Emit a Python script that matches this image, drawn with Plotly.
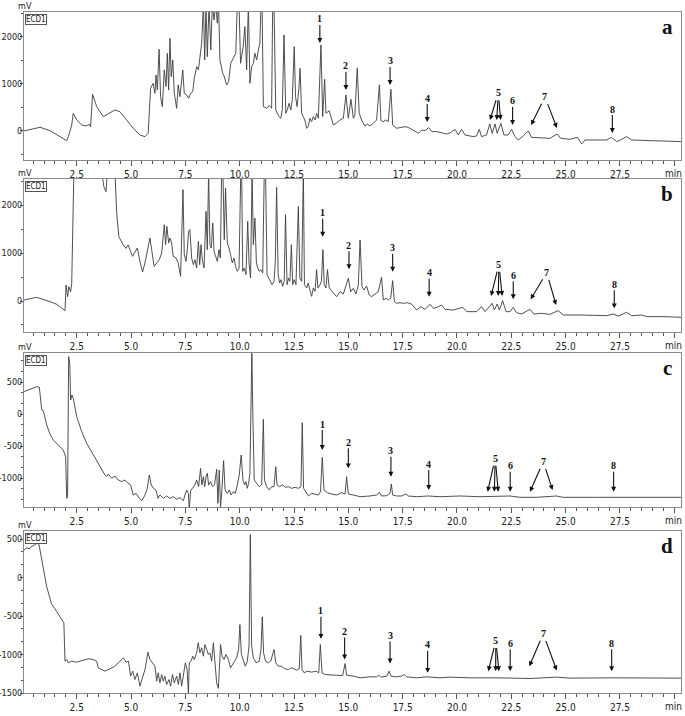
import plotly.graph_objects as go

# Retention time (min) and detector signal (mV)
a_time = [0.07, 0.66, 0.81, 1.27, 2.04, 2.14, 2.27, 2.34, 2.5, 2.73, 2.93, 3.08, 3.14, 3.23, 3.42, 3.72, 4.03, 4.26, 4.49, 4.8,
          5.1, 5.41, 5.64, 5.79, 5.87, 5.90, 6.02, 6.10, 6.15, 6.21, 6.29, 6.36, 6.44, 6.53, 6.61, 6.67, 6.73, 6.79, 6.85, 6.92,
          6.99, 7.10, 7.17, 7.25, 7.38, 7.45, 7.56, 7.65, 7.75, 7.84, 7.91, 8.02, 8.10, 8.17, 8.25, 8.33, 8.39, 8.45, 8.51, 8.59,
          8.67, 8.74, 8.82, 8.90, 8.97, 9.03, 9.09, 9.22, 9.29, 9.40, 9.49, 9.59, 9.68, 9.74, 9.82, 9.89, 9.97, 10.04, 10.16, 10.24,
          10.32, 10.40, 10.47, 10.55, 10.63, 10.70, 10.78, 10.86, 10.93, 10.98, 11.03, 11.09, 11.24, 11.36, 11.47, 11.52, 11.58, 11.66, 11.81, 11.89,
          11.96, 12.04, 12.12, 12.19, 12.27, 12.35, 12.42, 12.51, 12.57, 12.64, 12.72, 12.78, 12.85, 12.92, 13.0, 13.08, 13.15, 13.23, 13.31, 13.39,
          13.47, 13.54, 13.62, 13.74, 13.82, 13.91, 13.97, 14.12, 14.31, 14.45, 14.62, 14.77, 14.89, 15.0, 15.12, 15.23, 15.3, 15.41, 15.5, 15.61,
          15.69, 15.76, 15.87, 15.99, 16.15, 16.30, 16.43, 16.50, 16.61, 16.73, 16.84, 16.96, 17.04, 17.22, 17.45, 17.65, 17.84, 18.07, 18.23, 18.38,
          18.53, 18.70, 18.84, 19.07, 19.30, 19.52, 19.71, 19.91, 20.06, 20.21, 20.37, 20.75, 20.9, 21.03, 21.13, 21.36, 21.51, 21.62, 21.75, 21.85,
          22.02, 22.16, 22.36, 22.51, 22.67, 22.82, 23.02, 23.28, 23.43, 23.74, 23.97, 24.28, 24.61, 24.77, 25.20, 25.54, 25.74, 25.89, 26.43, 26.88,
          27.11, 27.35, 27.58, 27.81, 28.04, 28.5, 28.88, 29.49, 30.31]
a_mv = [0, 57, 78, 7, -206, -85, 128, 376, 234, 128, 106, 142, 92, 780, 518, 305, 390, 447, 411, 234,
        57, -85, -120, -50, 660, 908, 1014, 801, 1191, 872, 1738, 730, 518, 1298, 943, 1652, 872, 1972, 1156, 1511,
        801, 482, 979, 730, 1298, 801, 766, 695, 801, 837, 1121, 1369, 1298, 1582, 1865, 2700, 1511, 2700, 1582, 2700,
        1723, 2700, 2362, 2700, 2290, 2700, 1511, 1227, 1156, 979, 1050, 1440, 1511, 1582, 1652, 2700, 2700, 1440, 1794, 2220,
        1298, 2700, 1014, 1369, 1440, 1652, 1511, 1723, 1865, 2700, 2700, 518, 482, 540, 482, 2700, 2700, 447, 305, 270,
        447, 2043, 376, 447, 589, 447, 660, 1794, 730, 518, 872, 1333, 376, 305, 234, 57, 92, 270, 199, 305,
        234, 376, 270, 1830, 305, 1100, 376, 430, 128, 170, 234, 270, 766, 270, 674, 270, 340, 1333, 376, 234,
        163, 106, 149, 106, 163, 234, 979, 220, 199, 234, 199, 887, 128, 57, 78, 92, 57, -14, -50, 21,
        7, 71, -14, -14, -35, -64, -35, 35, -85, 35, -85, -120, -106, 35, -120, -85, 149, -50, 149, -50,
        163, -85, -85, 35, -120, -191, -120, 0, -135, -142, -135, -156, -64, -156, -177, -135, -277, -191, -191, -191,
        -135, -227, -177, -120, -191, -191, -206, -213, -227]

b_time = [0.07, 0.66, 1.27, 1.58, 1.96, 2.01, 2.08, 2.14, 2.22, 2.27, 2.37, 3.65, 3.75, 3.85, 3.91, 4.26, 4.34, 4.44, 4.52, 4.64,
          4.77, 4.87, 4.95, 5.07, 5.18, 5.29, 5.41, 5.53, 5.64, 5.75, 5.87, 5.95, 6.06, 6.18, 6.30, 6.41, 6.53, 6.59, 6.65, 6.73,
          6.79, 6.87, 6.94, 7.07, 7.17, 7.28, 7.33, 7.39, 7.45, 7.53, 7.59, 7.65, 7.71, 7.79, 7.87, 7.94, 8.02, 8.10, 8.16, 8.22,
          8.28, 8.36, 8.45, 8.51, 8.57, 8.63, 8.69, 8.76, 8.82, 8.89, 8.97, 9.05, 9.11, 9.17, 9.23, 9.29, 9.35, 9.43, 9.51, 9.58,
          9.66, 9.74, 9.81, 9.89, 9.97, 10.05, 10.09, 10.14, 10.21, 10.29, 10.37, 10.43, 10.50, 10.57, 10.63, 10.70, 10.77, 10.83, 10.90, 10.98,
          11.06, 11.13, 11.19, 11.26, 11.33, 11.41, 11.49, 11.58, 11.64, 11.70, 11.77, 11.84, 11.90, 11.98, 12.05, 12.11, 12.18, 12.25, 12.31, 12.38,
          12.44, 12.51, 12.59, 12.70, 12.77, 12.85, 12.93, 12.98, 13.08, 13.15, 13.23, 13.31, 13.39, 13.47, 13.54, 13.60, 13.70, 13.76, 13.83, 13.89,
          13.97, 14.04, 14.12, 14.31, 14.46, 14.62, 14.77, 15.0, 15.11, 15.23, 15.35, 15.46, 15.54, 15.63, 15.72, 15.84, 15.96, 16.07, 16.23, 16.38,
          16.53, 16.61, 16.73, 16.84, 16.95, 17.04, 17.12, 17.22, 17.38, 17.53, 17.71, 17.91, 18.14, 18.33, 18.53, 18.76, 18.92, 19.09, 19.29, 19.45,
          19.83, 20.26, 20.45, 20.91, 21.13, 21.29, 21.62, 21.72, 21.85, 21.95, 22.10, 22.26, 22.44, 22.59, 22.74, 22.97, 23.36, 23.54, 23.89, 24.28,
          24.66, 24.89, 25.66, 26.27, 26.89, 27.19, 27.42, 27.81, 28.04, 28.5, 28.73, 29.49, 30.31]
b_mv = [21, 76, -14, -69, -201, 333, 90, 299, 194, 368, 2700, 2700, 2382, 2278, 2700, 2700, 1826, 1340, 1271, 1167,
        1097, 1167, 1069, 931, 1021, 1104, 826, 604, 792, 1035, 1313, 1069, 722, 792, 861, 1000, 1590, 1174, 1556, 1208,
        1313, 1208, 931, 896, 792, 514, 1174, 2319, 965, 826, 1069, 1451, 1486, 896, 757, 861, 688, 1243, 757, 1174,
        861, 688, 1868, 1069, 2700, 1174, 1104, 1625, 1035, 931, 826, 1069, 896, 2700, 2700, 1278, 2354, 1208, 1104, 965,
        792, 896, 722, 618, 674, 2700, 2700, 618, 688, 549, 1660, 792, 479, 2700, 1174, 1729, 792, 688, 618, 653,
        583, 2700, 2700, 549, 479, 410, 340, 410, 826, 2368, 549, 375, 444, 306, 410, 1799, 340, 479, 410, 1174,
        340, 444, 340, 1972, 479, 410, 2700, 340, 271, 375, 201, 97, 271, 201, 653, 271, 340, 410, 1069, 340,
        271, 653, 271, 160, 90, 194, 146, 472, 194, 264, 146, 333, 1271, 299, 229, 313, 125, 90, 146, 194,
        493, 21, 56, 21, 56, 424, -14, -49, -35, -49, -35, -63, -188, -118, -174, -69, -153, -132, -83, -174,
        -188, -132, -222, -222, -118, -222, -49, -188, -63, -188, 7, -222, -222, -132, -243, -271, -174, -271, -257, -278,
        -201, -292, -292, -306, -306, -271, -313, -236, -306, -292, -326, -326, -340]

c_time = [0.07, 0.27, 0.5, 0.66, 0.78, 0.84, 0.89, 0.96, 1.12, 1.27, 1.42, 1.65, 1.88, 1.99, 2.04, 2.08, 2.13, 2.18, 2.22, 2.28,
          2.34, 2.5, 2.73, 2.96, 3.26, 3.57, 3.80, 3.88, 3.95, 4.11, 4.26, 4.41, 4.57, 4.72, 4.83, 4.98, 5.10, 5.23, 5.38, 5.50,
          5.64, 5.75, 5.84, 5.93, 6.03, 6.15, 6.24, 6.33, 6.49, 6.64, 6.79, 6.95, 7.10, 7.25, 7.41, 7.48, 7.56, 7.64, 7.68, 7.74,
          7.83, 7.94, 8.02, 8.11, 8.20, 8.26, 8.33, 8.39, 8.45, 8.51, 8.57, 8.66, 8.75, 8.84, 8.94, 9.0, 9.06, 9.12, 9.18, 9.26,
          9.33, 9.43, 9.52, 9.61, 9.71, 9.80, 9.89, 9.98, 10.07, 10.15, 10.23, 10.29, 10.35, 10.41, 10.47, 10.52, 10.56, 10.61, 10.67, 10.78,
          10.90, 11.01, 11.09, 11.14, 11.24, 11.36, 11.47, 11.58, 11.66, 11.72, 11.83, 11.98, 12.11, 12.24, 12.39, 12.55, 12.70, 12.82, 12.88, 12.94,
          13.05, 13.16, 13.31, 13.46, 13.62, 13.72, 13.80, 13.88, 14.03, 14.23, 14.46, 14.69, 14.85, 14.92, 15.0, 15.23, 15.54, 16.0, 16.30, 16.43,
          16.53, 16.77, 16.92, 16.98, 17.04, 17.22, 17.45, 17.65, 17.76, 18.14, 18.68, 19.22, 20.14, 21.06, 21.82, 22.44, 22.90, 23.66, 24.58, 24.89,
          26.43, 27.96, 30.31]
c_mv = [349, 375, 401, 427, 417, 245, 63, 52, -172, -313, -406, -484, -563, -667, -1318, -1292, 896, 792, 219, 297,
        245, -42, -276, -458, -641, -823, -953, -979, -938, -1005, -969, -1031, -1057, -1031, -1073, -1109, -1266, -1240, -1318, -1354,
        -1266, -1161, -953, -1109, -1161, -1188, -1318, -1266, -1318, -1281, -1318, -1292, -1333, -1307, -1354, -1266, -1188, -1240, -1500, -1198,
        -1161, -1109, -1031, -1135, -849, -1109, -979, -1135, -979, -927, -1109, -1057, -1135, -1109, -865, -1396, -875, -1450, -1188, -729,
        -1188, -1240, -1188, -1266, -1214, -1240, -1109, -953, -641, -1031, -1109, -1057, -1161, -1083, -927, -94, 950, -94, -1031, -1083,
        -1135, -1109, -83, -1031, -1135, -1188, -1135, -1135, -823, -1109, -1135, -1109, -1146, -1135, -1161, -1146, -1161, -1135, -135, -1161,
        -1214, -1281, -1240, -1250, -1266, -1214, -677, -1188, -1229, -1250, -1266, -1229, -1250, -979, -1250, -1266, -1292, -1281, -1266, -1224,
        -1281, -1276, -1240, -1094, -1266, -1281, -1281, -1250, -1281, -1292, -1281, -1292, -1281, -1292, -1292, -1281, -1302, -1302, -1281, -1302,
        -1302, -1302, -1302]

d_time = [0.07, 0.2, 0.32, 0.43, 0.53, 0.66, 0.69, 0.78, 0.86, 0.96, 1.04, 1.12, 1.24, 1.35, 1.50, 1.65, 1.81, 1.91, 1.96, 2.04,
          2.11, 2.27, 2.50, 2.80, 3.03, 3.26, 3.42, 3.49, 3.65, 3.80, 4.03, 4.26, 4.49, 4.65, 4.77, 4.88, 4.98, 5.08, 5.18, 5.29,
          5.41, 5.53, 5.64, 5.72, 5.78, 5.87, 5.99, 6.10, 6.18, 6.25, 6.33, 6.41, 6.48, 6.56, 6.64, 6.75, 6.82, 6.91, 6.99, 7.10,
          7.18, 7.25, 7.33, 7.44, 7.50, 7.58, 7.64, 7.68, 7.76, 7.84, 7.91, 8.02, 8.09, 8.17, 8.25, 8.33, 8.40, 8.48, 8.56, 8.63,
          8.71, 8.79, 8.86, 8.94, 9.02, 9.06, 9.12, 9.19, 9.28, 9.37, 9.48, 9.58, 9.71, 9.78, 9.86, 9.95, 10.01, 10.08, 10.17, 10.26,
          10.35, 10.43, 10.49, 10.55, 10.63, 10.75, 10.90, 10.98, 11.04, 11.10, 11.19, 11.32, 11.43, 11.52, 11.58, 11.66, 11.78, 11.93, 12.08, 12.24,
          12.39, 12.62, 12.74, 12.81, 12.87, 12.97, 13.11, 13.31, 13.51, 13.64, 13.71, 13.79, 13.93, 14.16, 14.46, 14.74, 14.85, 14.92, 15.23, 15.54,
          16.0, 16.30, 16.40, 16.49, 16.77, 16.88, 16.96, 17.22, 17.45, 17.56, 17.68, 18.14, 18.60, 19.22, 19.68, 20.6, 21.82, 22.74, 23.36, 24.58,
          25.2, 27.19, 30.31]
d_mv = [355, 385, 372, 407, 416, 442, 485, 407, 277, 126, -26, -121, -242, -351, -407, -481, -545, -589, -1087, -1065,
        -1108, -1087, -1100, -1074, -1056, -1065, -1087, -1173, -1195, -1216, -1186, -1152, -1087, -1043, -1100, -1087, -1281, -1216, -1325, -1238,
        -1411, -1281, -1195, -1065, -970, -1065, -1108, -1152, -1346, -1238, -1368, -1260, -1346, -1281, -1390, -1325, -1411, -1260, -1368, -1281,
        -1390, -1238, -1411, -1173, -1108, -1195, -1498, -1108, -1087, -1022, -1065, -978, -848, -978, -913, -1022, -870, -935, -1000, -978,
        -1087, -848, -1108, -1368, -1440, -1108, -870, -1022, -1065, -1000, -1065, -1173, -1108, -1065, -1043, -935, -610, -1000, -1087, -1152,
        -1087, -892, 558, -892, -1043, -1108, -1087, -935, -511, -978, -1087, -1108, -1087, -1000, -935, -1108, -1152, -1152, -1186, -1195,
        -1173, -1203, -1186, -753, -1195, -1238, -1216, -1229, -1216, -1238, -870, -1238, -1260, -1265, -1270, -1273, -1117, -1268, -1281, -1303,
        -1290, -1290, -1268, -1294, -1281, -1216, -1281, -1290, -1281, -1260, -1290, -1303, -1290, -1303, -1294, -1303, -1303, -1303, -1312, -1294,
        -1307, -1303, -1307]

# Axis ticks
time_ticks = [2.5, 5.0, 7.5, 10.0, 12.5, 15.0, 17.5, 20.0, 22.5, 25.0, 27.5, 30.0]
time_tick_text = ['2.5', '5.0', '7.5', '10.0', '12.5', '15.0', '17.5', '20.0', '22.5', '25.0', '27.5', '']
ab_mv_ticks = [0, 1000, 2000]
c_mv_ticks = [-1000, -500, 0, 500]
d_mv_ticks = [-1500, -1000, -500, 0, 500]

# Marked peaks with a single arrow: retention time and signal at the arrow tip
single_names = ['1', '2', '3', '4', '6', '8']
a_arrow_time = [13.69, 14.89, 16.92, 18.63, 22.56, 27.15]
a_arrow_mv = [1872, 872, 979, 191, 128, -43]
b_arrow_time = [13.82, 15.03, 17.04, 18.72, 22.59, 27.24]
b_arrow_mv = [1340, 660, 611, 90, 35, -153]
c_arrow_time = [13.80, 15.0, 16.96, 18.7, 22.45, 27.21]
c_arrow_mv = [-563, -849, -979, -1188, -1214, -1214]
d_arrow_time = [13.74, 14.83, 16.92, 18.65, 22.45, 27.12]
d_arrow_mv = [-797, -1065, -1117, -1238, -1216, -1216]

# Peak groups 5 (three arrows) and 7 (two arrows): tips and label position
a_five_time, a_five_mv, a_five_label = [21.52, 21.83, 22.01], [234, 234, 234], [21.9, 809]
a_seven_time, a_seven_mv, a_seven_label = [23.41, 24.6], [128, 64], [24.05, 723]
b_five_time, b_five_mv, b_five_label = [21.57, 21.9, 22.08], [104, 104, 104], [21.93, 765]
b_seven_time, b_seven_mv, b_seven_label = [23.39, 24.56], [35, -83], [24.13, 590]
c_five_time, c_five_mv, c_five_label = [21.41, 21.72, 21.9], [-1214, -1214, -1214], [21.76, -692]
c_seven_time, c_seven_mv, c_seven_label = [23.36, 24.4], [-1214, -1188], [23.97, -745]
d_five_time, d_five_mv, d_five_label = [21.44, 21.78, 21.93], [-1216, -1216, -1216], [21.79, -818]
d_seven_time, d_seven_mv, d_seven_label = [23.33, 24.59], [-1152, -1208], [23.97, -731]

panel_letters = ['a', 'b', 'c', 'd']

# ---- layout geometry (pixels of a 685 x 716 page) ----
W, H = 685, 716
x_dom = [24 / W, 681 / W]
panel_px = [(12, 160), (179, 332), (353, 507), (531, 693)]  # top, bottom
y_ranges = [[-617, 2530], [-646, 2542], [-1453, 953], [-1500, 604]]
y_minor = [500, 500, 500 / 3, 500 / 3]
lifts = [-24, -24, -26, -28]

panels = [
    (a_time, a_mv, ab_mv_ticks, a_arrow_time, a_arrow_mv,
     (a_five_time, a_five_mv, a_five_label), (a_seven_time, a_seven_mv, a_seven_label)),
    (b_time, b_mv, ab_mv_ticks, b_arrow_time, b_arrow_mv,
     (b_five_time, b_five_mv, b_five_label), (b_seven_time, b_seven_mv, b_seven_label)),
    (c_time, c_mv, c_mv_ticks, c_arrow_time, c_arrow_mv,
     (c_five_time, c_five_mv, c_five_label), (c_seven_time, c_seven_mv, c_seven_label)),
    (d_time, d_mv, d_mv_ticks, d_arrow_time, d_arrow_mv,
     (d_five_time, d_five_mv, d_five_label), (d_seven_time, d_seven_mv, d_seven_label)),
]

SANS = 'Liberation Sans Narrow, Arial Narrow, DejaVu Sans Condensed, Liberation Sans, sans-serif'
SERIF = 'Liberation Serif, DejaVu Serif, serif'
FRAME = '#8a8a8a'

fig = go.Figure()
layout = dict(
    width=W, height=H,
    margin=dict(l=0, r=0, t=0, b=0),
    paper_bgcolor='white', plot_bgcolor='white',
    showlegend=False,
    font=dict(family=SANS, size=10, color='#222'),
    template='none',
)
annotations = []


def paper_text(px, py, text, **kw):
    # text placed by its centre at a pixel position of the page
    d = dict(x=px / W, y=1 - py / H, xref='paper', yref='paper', text=text,
             showarrow=False, xanchor='center', yanchor='middle')
    d.update(kw)
    return d


for i, (t, mv, yt, at, amv, five, seven) in enumerate(panels):
    n = '' if i == 0 else str(i + 1)
    xr, yr = 'x' + n, 'y' + n
    top, bot = panel_px[i]
    layout['xaxis' + n] = dict(
        domain=x_dom, anchor=yr, range=[0.074, 30.31],
        tickmode='array', tickvals=time_ticks, ticktext=time_tick_text,
        ticks='outside', ticklen=5, tickcolor='#555', tickfont=dict(size=10),
        minor=dict(dtick=0.5, tick0=0, ticks='outside', ticklen=3, tickcolor='#555'),
        showline=True, mirror=True, linecolor=FRAME, linewidth=1,
        showgrid=False, zeroline=False, automargin=False,
    )
    layout['yaxis' + n] = dict(
        domain=[(H - bot) / H, (H - top) / H], anchor=xr, range=y_ranges[i],
        tickmode='array', tickvals=yt, ticktext=[str(v) for v in yt],
        ticks='outside', ticklen=3, tickcolor='#555', tickfont=dict(size=9),
        ticklabelstandoff=-4,
        minor=dict(dtick=y_minor[i], tick0=0, ticks='outside', ticklen=2, tickcolor='#555'),
        showline=True, mirror=True, linecolor=FRAME, linewidth=1,
        showgrid=False, zeroline=False, automargin=False,
    )
    fig.add_trace(go.Scatter(x=t, y=mv, mode='lines', xaxis=xr, yaxis=yr,
                             line=dict(color='#3c3c3c', width=0.9), hoverinfo='skip'))

    # single arrows with their peak numbers
    for name, px_t, px_v in zip(single_names, at, amv):
        annotations.append(dict(
            x=px_t, y=px_v, xref=xr, yref=yr, text='<b>%s</b>' % name,
            showarrow=True, ax=0, ay=lifts[i], arrowhead=2, arrowsize=0.9, arrowwidth=1.1,
            arrowcolor='#111', borderpad=0, font=dict(family=SERIF, size=10, color='#111')))

    # grouped arrows (5 and 7)
    for name, (gt, gv, lab) in zip(['5', '7'], [five, seven]):
        annotations.append(dict(x=lab[0], y=lab[1], xref=xr, yref=yr, text='<b>%s</b>' % name,
                                showarrow=False, font=dict(family=SERIF, size=10, color='#111')))
        for tt, vv in zip(gt, gv):
            annotations.append(dict(
                x=tt, y=vv, xref=xr, yref=yr, text='', showarrow=True,
                axref=xr, ayref=yr, ax=lab[0], ay=lab[1], startstandoff=6,
                arrowhead=2, arrowsize=0.9, arrowwidth=1.1, arrowcolor='#111'))

    # panel letter, "mV" unit, "min" unit and detector box
    annotations.append(paper_text(667, top + 15, '<b>%s</b>' % panel_letters[i],
                                  font=dict(family=SERIF, size=21, color='#111')))
    annotations.append(paper_text(25, top - 6, 'mV', font=dict(size=9)))
    annotations.append(paper_text(684, bot + 13, 'min', xanchor='right', font=dict(size=10)))
    annotations.append(paper_text(25, top + 2, 'ECD1', xanchor='left', yanchor='top',
                                  bordercolor='#555', borderwidth=1, borderpad=0, bgcolor='white',
                                  font=dict(size=8)))

layout['annotations'] = annotations
fig.update_layout(**layout)

# the page body has a default 8px margin; drop it so the figure sits at the window corner
fig.write_html("out.html", config={'displayModeBar': False},
               post_script="document.body.style.margin='0px';")
